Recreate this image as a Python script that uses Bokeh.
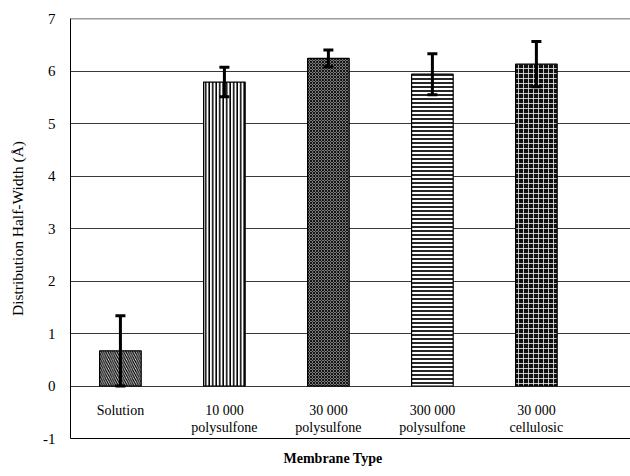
from bokeh.plotting import figure
from bokeh.models import ColumnDataSource, Whisker, TeeHead, FixedTicker, Range1d, LinearAxis, Span, Title
from bokeh.core.properties import value
from bokeh.embed import file_html
from bokeh.resources import INLINE

categories = ["Solution", "10 000\npolysulfone", "30 000\npolysulfone", "300 000\npolysulfone", "30 000\ncellulosic"]
half_width = [0.67, 5.79, 6.24, 5.94, 6.13]
errors = [0.67, 0.28, 0.16, 0.39, 0.43]
y_ticks = [-1, 0, 1, 2, 3, 4, 5, 6, 7]

xs = list(range(len(categories)))
src = ColumnDataSource(dict(
    x=xs, y=half_width, cat=categories,
    lo=[v - e for v, e in zip(half_width, errors)],
    hi=[v + e for v, e in zip(half_width, errors)],
    ly=[-0.32] * len(categories),
))

p = figure(width=630, height=476, output_backend="svg", toolbar_location=None,
           x_range=Range1d(-0.48, 4.905), y_range=Range1d(-1, 7),
           min_border_left=70, min_border_top=18, min_border_bottom=37, min_border_right=0,
           x_axis_location=None)
p.outline_line_color = None
p.background_fill_color = "white"
p.xgrid.visible = False
p.ygrid.ticker = FixedTicker(ticks=[0, 1, 2, 3, 4, 5, 6])
p.ygrid.grid_line_color = "#3a3a3a"
p.ygrid.grid_line_width = 1
p.add_layout(Span(location=7, dimension="width", line_color="#3a3a3a", line_width=1.5))

serif = "Liberation Serif"
p.yaxis.ticker = FixedTicker(ticks=y_ticks)
p.yaxis.major_label_overrides = {t: str(t) for t in y_ticks}
p.yaxis.major_tick_line_color = None
p.yaxis.minor_tick_line_color = None
p.yaxis.axis_line_color = "black"
p.yaxis.major_label_text_font = serif
p.yaxis.major_label_text_font_size = "15px"
p.yaxis.major_label_text_color = "black"
p.yaxis.major_label_standoff = 9
p.yaxis.axis_label = "Distribution Half-Width (Å)"
p.yaxis.axis_label_text_font = serif
p.yaxis.axis_label_text_font_size = "15.5px"
p.yaxis.axis_label_text_font_style = "normal"
p.yaxis.axis_label_text_color = "black"
p.yaxis.axis_label_standoff = 14

xax = LinearAxis(ticker=FixedTicker(ticks=[]))
xax.axis_line_color = "black"
xax.major_tick_line_color = None
xax.minor_tick_line_color = None
xax.major_label_text_font_size = "0px"
p.add_layout(xax, "below")

p.add_layout(Title(text="Membrane Type", align="left", offset=213, standoff=21,
                   text_font=serif, text_font_size="14px", text_font_style="bold",
                   text_color="black"), "below")

bw = 0.4
hatches = [
    dict(fill_color="white", hatch_pattern="\\", hatch_color="black", hatch_scale=4.5, hatch_weight=1.3),
    dict(fill_color="white", hatch_pattern="|", hatch_color="black", hatch_scale=3.5, hatch_weight=1.6),
    dict(fill_color="#7a7a7a", hatch_pattern="x", hatch_color="#151515", hatch_scale=3.0, hatch_weight=1.0),
    dict(fill_color="white", hatch_pattern="-", hatch_color="black", hatch_scale=4.0, hatch_weight=1.7),
    dict(fill_color="#111111", hatch_pattern="+", hatch_color="#f0f0f0", hatch_scale=5.0, hatch_weight=0.8),
]
for i, h in enumerate(hatches):
    view_src = ColumnDataSource(dict(x=[xs[i]], top=[half_width[i]]))
    p.vbar(x="x", top="top", bottom=0, width=bw, source=view_src,
           line_color="black", line_width=1.2, **h)

w = Whisker(base="x", lower="lo", upper="hi", source=src, dimension="height",
            line_color="black", line_width=3, level="overlay")
w.upper_head = TeeHead(size=10, line_width=3, line_color="black")
w.lower_head = TeeHead(size=10, line_width=3, line_color="black")
p.add_layout(w)

p.text(x="x", y="ly", text="cat", source=src, text_align="center", text_baseline="top",
       text_font=value(serif), text_font_size="14px", text_color="black", text_line_height=1.15)

open("out.html", "w").write(file_html(p, INLINE))
